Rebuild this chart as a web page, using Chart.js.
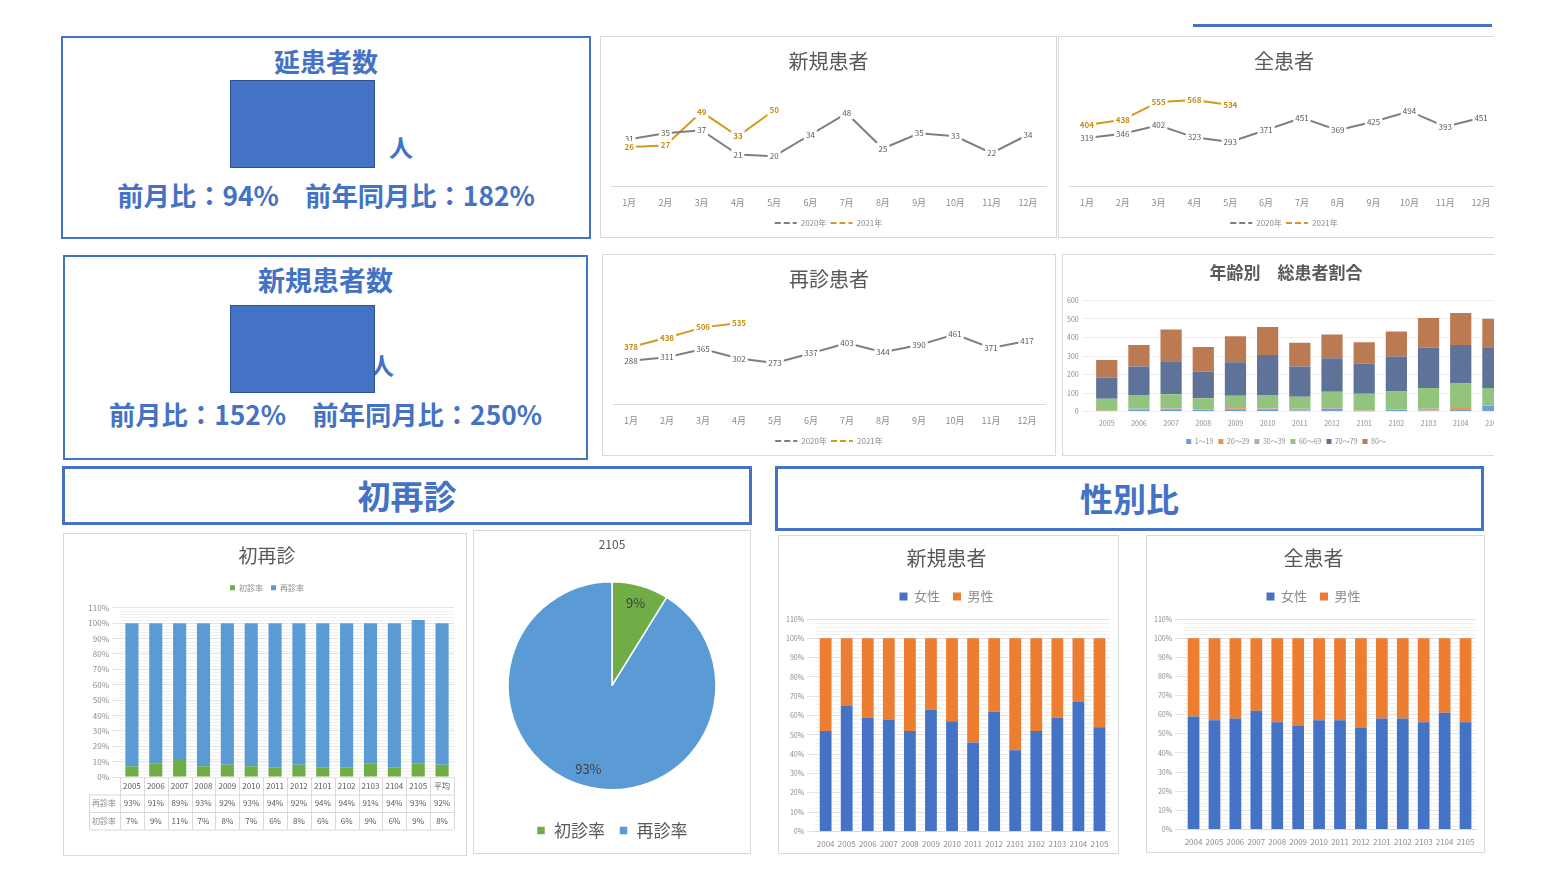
<!DOCTYPE html>
<html lang="ja">
<head>
<meta charset="utf-8">
<title>患者数ダッシュボード</title>
<script src="https://cdn.jsdelivr.net/npm/chart.js@4.4.1/dist/chart.umd.min.js"></script>
<style>
  html, body { margin: 0; padding: 0; background: #fff; }
  body { width: 1546px; height: 885px; position: relative; overflow: hidden;
         font-family: "Noto Sans CJK JP", "Noto Sans", sans-serif; }
  .panel { position: absolute; border: 1px solid #d9d9d9; box-sizing: border-box; background: #fff; overflow: hidden; }
  .cw { position: relative; width: 100%; height: 100%; }
  .blue-box { position: absolute; border: 2px solid #4472c4; box-sizing: border-box; }
  .txt { position: absolute; color: #4472c4; font-weight: 700; text-align: center; white-space: nowrap; }
  .kpi-rect { position: absolute; background: #4472c4; border: 1px solid #2f528f; box-sizing: border-box; }
</style>
</head>
<body>

<!-- 上段 KPI -->
<div class="blue-box" style="left:61px;top:36px;width:530px;height:203px;"></div>
<div class="txt" style="left:61px;top:43px;width:530px;font-size:26px;line-height:36px;">延患者数</div>
<div class="txt" style="left:389px;top:132px;font-size:24px;line-height:30px;">人</div>
<div class="kpi-rect" style="left:230px;top:80px;width:145px;height:88px;"></div>
<div class="txt" style="left:61px;top:176px;width:530px;font-size:26.3px;line-height:38px;">前月比：94%　前年同月比：182%</div>

<div class="blue-box" style="left:63px;top:255px;width:525px;height:205px;"></div>
<div class="txt" style="left:63px;top:262px;width:525px;font-size:27px;line-height:36px;">新規患者数</div>
<div class="txt" style="left:370px;top:350px;font-size:24px;line-height:30px;">人</div>
<div class="kpi-rect" style="left:230px;top:305px;width:145px;height:88px;"></div>
<div class="txt" style="left:63px;top:395px;width:525px;font-size:26.3px;line-height:38px;">前月比：152%　前年同月比：250%</div>

<div style="position:absolute;left:1193px;top:24px;width:299px;height:3px;background:#4472c4;"></div>

<!-- 折れ線 -->
<div class="panel" style="left:600px;top:36px;width:457px;height:202px;"><div class="cw"><canvas id="chartNew"></canvas></div></div>
<div class="panel" style="left:1058px;top:36px;width:436px;height:202px;border-right:none;"><div class="cw" style="width:450px;"><canvas id="chartAll"></canvas></div></div>
<div class="panel" style="left:602px;top:254px;width:454px;height:202px;"><div class="cw"><canvas id="chartRevisit"></canvas></div></div>
<div class="panel" style="left:1062px;top:254px;width:432px;height:202px;border-right:none;"><div class="cw" style="width:446px;"><canvas id="chartAge"></canvas></div></div>

<!-- 見出し -->
<div class="blue-box" style="left:62px;top:466px;width:690px;height:59px;border-width:3px;"></div>
<div class="txt" style="left:62px;top:474px;width:690px;font-size:33px;line-height:42px;">初再診</div>
<div class="blue-box" style="left:775px;top:466px;width:709px;height:65px;border-width:3px;"></div>
<div class="txt" style="left:775px;top:477px;width:709px;font-size:33px;line-height:42px;">性別比</div>

<!-- 下段 -->
<div class="panel" style="left:63px;top:533px;width:404px;height:323px;"><div class="cw"><canvas id="chartVisit"></canvas></div></div>
<div class="panel" style="left:473px;top:530px;width:278px;height:324px;"><div class="cw"><canvas id="chartPie"></canvas></div></div>
<div class="panel" style="left:778px;top:535px;width:341px;height:319px;"><div class="cw"><canvas id="chartGenderNew"></canvas></div></div>
<div class="panel" style="left:1146px;top:535px;width:339px;height:318px;"><div class="cw"><canvas id="chartGenderAll"></canvas></div></div>

<script>
// データ
const months = ['1月', '2月', '3月', '4月', '5月', '6月', '7月', '8月', '9月', '10月', '11月', '12月'];
const newPatients2020 = [31, 35, 37, 21, 20, 34, 48, 25, 35, 33, 22, 34];
const newPatients2021 = [26, 27, 49, 33, 50];
const allPatients2020 = [319, 346, 402, 323, 293, 371, 451, 369, 425, 494, 393, 451];
const allPatients2021 = [404, 438, 555, 568, 534];
const revisit2020 = [288, 311, 365, 302, 273, 337, 403, 344, 390, 461, 371, 417];
const revisit2021 = [378, 438, 506, 535];

const ageMonths = ['2005', '2006', '2007', '2008', '2009', '2010', '2011', '2012', '2101', '2102', '2103', '2104', '2105'];
const age1to19  = [3, 12, 8, 10, 8, 8, 6, 15, 2, 8, 5, 8, 30];
const age20to29 = [1, 2, 8, 2, 10, 8, 2, 2, 2, 2, 2, 12, 2];
const age30to39 = [1, 2, 2, 2, 2, 2, 8, 2, 2, 3, 8, 5, 3];
const age60to69 = [65, 73, 76, 58, 65, 71, 64, 88, 90, 95, 112, 127, 92];
const age70to79 = [113, 155, 177, 145, 181, 217, 164, 181, 164, 189, 217, 208, 220];
const age80plus = [95, 116, 172, 132, 141, 151, 127, 128, 114, 135, 161, 172, 154];

const visitMonths = ['2005', '2006', '2007', '2008', '2009', '2010', '2011', '2012', '2101', '2102', '2103', '2104', '2105', '平均'];
const firstVisitRate = [7, 9, 11, 7, 8, 7, 6, 8, 6, 6, 9, 6, 9, 8];
const revisitRate = [93, 91, 89, 93, 92, 93, 94, 92, 94, 94, 91, 94, 93, 92];

const pieLabels = ['初診率', '再診率'];
const pieValues = [9, 93];

const genderMonths = ['2004', '2005', '2006', '2007', '2008', '2009', '2010', '2011', '2012', '2101', '2102', '2103', '2104', '2105'];
const newFemale = [52, 65, 59, 58, 52, 63, 57, 46, 62, 42, 52, 59, 67, 54];
const newMale   = [48, 35, 41, 42, 48, 37, 43, 54, 38, 58, 48, 41, 33, 46];
const allFemale = [59, 57, 58, 62, 56, 54, 57, 57, 53, 58, 58, 56, 61, 56];
const allMale   = [41, 43, 42, 38, 44, 46, 43, 43, 47, 42, 42, 44, 39, 44];

const FONT = '"Noto Sans CJK JP", "Noto Sans", sans-serif';
const GRAY_TEXT = '#595959';
const LIGHT_TEXT = '#8c8c8c';

Chart.defaults.font.family = FONT;
Chart.defaults.animation = false;
Chart.defaults.plugins.tooltip.enabled = false;

// 凡例の下に余白を足す
function legendGap(px) {
  return {
    id: 'legendGap',
    beforeUpdate(chart) {
      const lg = chart.legend;
      if (!lg || lg._gapPatched) return;
      const fit = lg.fit;
      lg.fit = function() { fit.call(this); this.height += px; };
      lg._gapPatched = true;
    }
  };
}

// x軸の下に余白を足す
function extraHeight(px) {
  return function(scale) { scale.height += px; };
}

// 補助目盛線（Excel の minor gridline 風）
const minorGrid = {
  id: 'minorGrid',
  beforeDatasetsDraw(chart) {
    const y = chart.scales.y;
    const area = chart.chartArea;
    const ctx = chart.ctx;
    ctx.save();
    ctx.strokeStyle = '#f1f1f1';
    ctx.lineWidth = 1;
    for (let v = 2; v < y.max; v += 2) {
      if (v % 10 === 0) continue;
      const py = Math.round(y.getPixelForValue(v)) + 0.5;
      ctx.beginPath();
      ctx.moveTo(area.left, py);
      ctx.lineTo(area.right, py);
      ctx.stroke();
    }
    ctx.restore();
  }
};

// 折れ線の値ラベル（白背景で線を切る）
const pointLabels = {
  id: 'pointLabels',
  afterDatasetsDraw(chart) {
    const ctx = chart.ctx;
    chart.data.datasets.forEach((ds, i) => {
      const meta = chart.getDatasetMeta(i);
      ctx.save();
      ctx.font = (ds.labelBold ? 'bold ' : '') + '8px ' + FONT;
      ctx.textAlign = 'center';
      ctx.textBaseline = 'middle';
      meta.data.forEach((pt, j) => {
        const v = ds.data[j];
        if (v == null) return;
        const txt = String(v);
        const w = ctx.measureText(txt).width + 4;
        ctx.fillStyle = '#fff';
        ctx.fillRect(pt.x - w / 2, pt.y - 6, w, 12);
        ctx.fillStyle = ds.labelColor;
        ctx.fillText(txt, pt.x, pt.y);
      });
      ctx.restore();
    });
  }
};

function lineChart(id, title, d2020, d2021, yMax) {
  return new Chart(document.getElementById(id), {
    type: 'line',
    data: {
      labels: months,
      datasets: [
        { label: '2020年', data: d2020, borderColor: '#7f7f7f', backgroundColor: '#7f7f7f', borderWidth: 2,
          pointRadius: 0, labelColor: GRAY_TEXT },
        { label: '2021年', data: d2021, borderColor: '#d19a22', backgroundColor: '#d19a22', borderWidth: 2,
          pointRadius: 0, labelColor: '#c88f12', labelBold: true }
      ]
    },
    options: {
      responsive: true,
      maintainAspectRatio: false,
      layout: { padding: { left: 10, right: 10, top: 0, bottom: 0 } },
      plugins: {
        title: { display: true, text: title, color: GRAY_TEXT, font: { size: 20, weight: 'normal' },
                 padding: { top: 12, bottom: 22 } },
        legend: { position: 'bottom',
                  labels: { usePointStyle: true, pointStyle: 'line', pointStyleWidth: 22, color: LIGHT_TEXT,
                            font: { size: 8 }, padding: 4,
                            generateLabels: chart => Chart.defaults.plugins.legend.labels.generateLabels(chart)
                              .map(item => Object.assign(item, { lineDash: [6, 3] })) } }
      },
      scales: {
        x: { offset: true, grid: { display: false }, border: { color: '#d9d9d9' },
             afterFit: extraHeight(5.5),
             ticks: { color: LIGHT_TEXT, font: { size: 9 }, padding: 2 } },
        y: { display: false, min: 0, max: yMax }
      }
    },
    plugins: [pointLabels]
  });
}

lineChart('chartNew', '新規患者', newPatients2020, newPatients2021, 60);
lineChart('chartAll', '全患者', allPatients2020, allPatients2021, 600);
lineChart('chartRevisit', '再診患者', revisit2020, revisit2021, 600);

// 年齢別
new Chart(document.getElementById('chartAge'), {
  type: 'bar',
  data: {
    labels: ageMonths,
    datasets: [
      { label: '1～19', data: age1to19, backgroundColor: '#6f9fd8' },
      { label: '20～29', data: age20to29, backgroundColor: '#f0934f' },
      { label: '30～39', data: age30to39, backgroundColor: '#b0b0b0' },
      { label: '60～69', data: age60to69, backgroundColor: '#93c47d' },
      { label: '70～79', data: age70to79, backgroundColor: '#5f7399' },
      { label: '80～', data: age80plus, backgroundColor: '#bc7a52' }
    ]
  },
  options: {
    responsive: true,
    maintainAspectRatio: false,
    layout: { padding: { left: 0, right: 0, top: 0, bottom: 0 } },
    datasets: { bar: { categoryPercentage: 1, barPercentage: 0.66 } },
    plugins: {
      title: { display: true, text: '年齢別　総患者割合', color: GRAY_TEXT, font: { size: 17, weight: 'bold' },
               padding: { top: 7, bottom: 18 } },
      legend: { position: 'bottom',
                labels: { boxWidth: 5, boxHeight: 5, color: LIGHT_TEXT, font: { size: 7 }, padding: 5 } }
    },
    scales: {
      x: { stacked: true, grid: { display: false }, border: { display: false },
           afterFit: extraHeight(5),
           ticks: { color: LIGHT_TEXT, font: { size: 7 }, maxRotation: 0, autoSkip: false, padding: 0 } },
      y: { stacked: true, min: 0, max: 600, border: { display: false },
           grid: { color: '#eeeeee' },
           ticks: { stepSize: 100, color: LIGHT_TEXT, font: { size: 7 }, padding: 4 } }
    }
  }
});

// 初再診（データテーブル付き）
const dataTable = {
  id: 'dataTable',
  afterDraw(chart) {
    const ctx = chart.ctx;
    const x = chart.scales.x;
    const area = chart.chartArea;
    const n = visitMonths.length;
    const colW = (x.right - x.left) / n;
    const rowH = 17.5;
    const top = area.bottom;
    const headLeft = x.left - 31;
    const rows = [
      { name: '', values: visitMonths },
      { name: '再診率', values: revisitRate.map(v => v + '%') },
      { name: '初診率', values: firstVisitRate.map(v => v + '%') }
    ];
    ctx.save();
    ctx.strokeStyle = '#d9d9d9';
    ctx.lineWidth = 1;
    ctx.font = '8px ' + FONT;
    ctx.textAlign = 'center';
    ctx.textBaseline = 'middle';
    rows.forEach((row, r) => {
      const y0 = top + r * rowH;
      const left = r === 0 ? x.left : headLeft;
      ctx.beginPath();
      ctx.moveTo(left, y0 + rowH + 0.5);
      ctx.lineTo(x.right, y0 + rowH + 0.5);
      ctx.stroke();
      if (r > 0) {
        ctx.fillStyle = LIGHT_TEXT;
        ctx.fillText(row.name, headLeft + 15, y0 + rowH / 2);
      }
      row.values.forEach((v, i) => {
        ctx.fillStyle = GRAY_TEXT;
        ctx.fillText(v, x.getPixelForValue(i), y0 + rowH / 2);
      });
    });
    // 縦線
    for (let i = 0; i <= n; i++) {
      const px = Math.round(x.left + i * colW) + 0.5;
      ctx.beginPath();
      ctx.moveTo(px, top);
      ctx.lineTo(px, top + rowH * 3);
      ctx.stroke();
    }
    ctx.beginPath();
    ctx.moveTo(headLeft + 0.5, top + rowH);
    ctx.lineTo(headLeft + 0.5, top + rowH * 3);
    ctx.moveTo(headLeft, top + rowH + 0.5);
    ctx.lineTo(x.left, top + rowH + 0.5);
    ctx.stroke();
    ctx.restore();
  }
};

new Chart(document.getElementById('chartVisit'), {
  type: 'bar',
  data: {
    labels: visitMonths,
    datasets: [
      { label: '初診率', data: firstVisitRate, backgroundColor: '#70ad47' },
      { label: '再診率', data: revisitRate, backgroundColor: '#5b9bd5' }
    ]
  },
  options: {
    responsive: true,
    maintainAspectRatio: false,
    layout: { padding: { left: 16, right: 12, top: 0, bottom: 70 } },
    datasets: { bar: { categoryPercentage: 1, barPercentage: 0.55 } },
    plugins: {
      title: { display: true, text: '初再診', color: GRAY_TEXT, font: { size: 19, weight: 'normal' },
               padding: { top: 10, bottom: 9 } },
      legend: { position: 'top',
                labels: { boxWidth: 5, boxHeight: 5, color: LIGHT_TEXT, font: { size: 8 }, padding: 8 } }
    },
    scales: {
      x: { stacked: true, grid: { display: false }, border: { display: false }, ticks: { display: false } },
      y: { stacked: true, min: 0, max: 110, border: { display: false },
           afterFit(scale) { scale.width = 40; },
           grid: { color: '#e3e3e3' },
           ticks: { stepSize: 10, color: LIGHT_TEXT, font: { size: 8 }, callback: v => v + '%' } }
    }
  },
  plugins: [dataTable, legendGap(6), minorGrid]
});

// 円グラフ
const pieLabelsPlugin = {
  id: 'pieLabelsPlugin',
  afterDatasetsDraw(chart) {
    const ctx = chart.ctx;
    const meta = chart.getDatasetMeta(0);
    ctx.save();
    ctx.font = '13px ' + FONT;
    ctx.fillStyle = '#404040';
    ctx.textAlign = 'center';
    ctx.textBaseline = 'middle';
    meta.data.forEach((arc, i) => {
      const mid = (arc.startAngle + arc.endAngle) / 2;
      const r = arc.outerRadius * 0.83;
      ctx.fillText(pieValues[i] + '%', arc.x + Math.cos(mid) * r, arc.y + Math.sin(mid) * r);
    });
    ctx.restore();
  }
};

new Chart(document.getElementById('chartPie'), {
  type: 'pie',
  data: {
    labels: pieLabels,
    datasets: [{ data: pieValues, backgroundColor: ['#70ad47', '#5b9bd5'], borderColor: '#fff', borderWidth: 1.5,
                 radius: 104 }]
  },
  options: {
    responsive: true,
    maintainAspectRatio: false,
    layout: { padding: { left: 10, right: 10, top: 0, bottom: 4 } },
    plugins: {
      title: { display: true, text: '2105', color: GRAY_TEXT, font: { size: 12, weight: 'normal' },
               padding: { top: 6, bottom: 12 } },
      legend: { position: 'bottom',
                labels: { boxWidth: 9, boxHeight: 9, color: GRAY_TEXT, font: { size: 17 }, padding: 14 } }
    }
  },
  plugins: [pieLabelsPlugin]
});

// 性別比
function genderChart(id, title, female, male, bottomGap) {
  return new Chart(document.getElementById(id), {
    type: 'bar',
    data: {
      labels: genderMonths,
      datasets: [
        { label: '女性', data: female, backgroundColor: '#4472c4' },
        { label: '男性', data: male, backgroundColor: '#ed7d31' }
      ]
    },
    options: {
      responsive: true,
      maintainAspectRatio: false,
      layout: { padding: { left: 4, right: 8, top: 0, bottom: 1 } },
      datasets: { bar: { categoryPercentage: 1, barPercentage: 0.56 } },
      plugins: {
        title: { display: true, text: title, color: GRAY_TEXT, font: { size: 20, weight: 'normal' },
                 padding: { top: 10, bottom: 7 } },
        legend: { position: 'top',
                  labels: { boxWidth: 8, boxHeight: 8, color: LIGHT_TEXT, font: { size: 13 }, padding: 13 } }
      },
      scales: {
        x: { stacked: true, grid: { display: false }, border: { color: '#d9d9d9' },
             afterFit: extraHeight(bottomGap),
             ticks: { color: LIGHT_TEXT, font: { size: 8 }, maxRotation: 0, autoSkip: false, padding: 0 } },
        y: { stacked: true, min: 0, max: 110, border: { display: false },
             grid: { color: '#e3e3e3' },
             ticks: { stepSize: 10, color: LIGHT_TEXT, font: { size: 7 }, callback: v => v + '%' } }
      }
    },
    plugins: [legendGap(6), minorGrid]
  });
}

genderChart('chartGenderNew', '新規患者', newFemale, newMale, 3);
genderChart('chartGenderAll', '全患者', allFemale, allMale, 4);
</script>
</body>
</html>
